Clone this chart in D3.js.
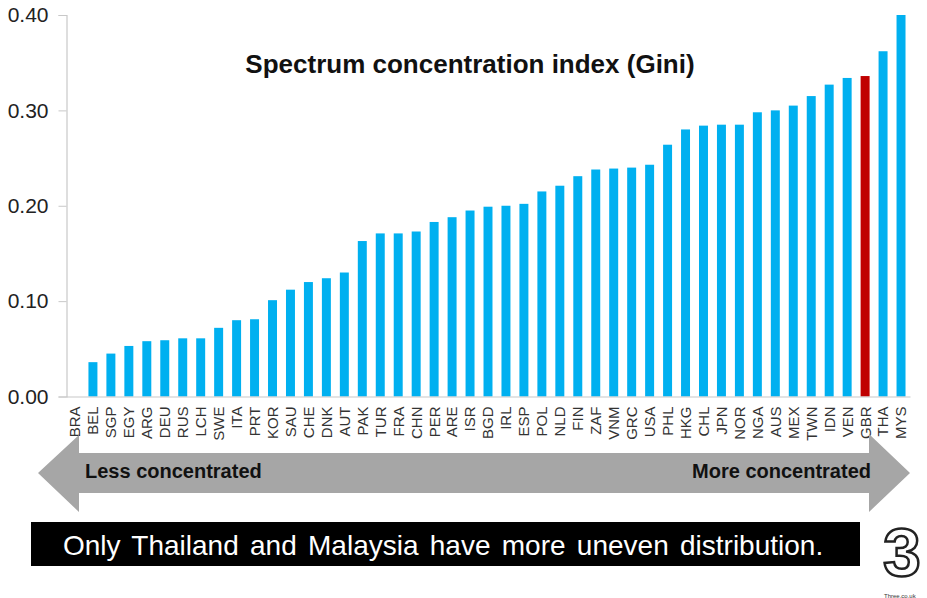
<!DOCTYPE html>
<html><head><meta charset="utf-8">
<script src="https://cdn.jsdelivr.net/npm/d3@7"></script>
<style>
html,body{margin:0;padding:0;background:#fff;}
svg{display:block;font-family:Arial,"Liberation Sans",sans-serif;}
</style></head>
<body><svg id="c" width="927" height="598"></svg>
<script>
const categories = ["BRA","BEL","SGP","EGY","ARG","DEU","RUS","LCH","SWE","ITA","PRT","KOR","SAU","CHE","DNK","AUT","PAK","TUR","FRA","CHN","PER","ARE","ISR","BGD","IRL","ESP","POL","NLD","FIN","ZAF","VNM","GRC","USA","PHL","HKG","CHL","JPN","NOR","NGA","AUS","MEX","TWN","IDN","VEN","GBR","THA","MYS"];
const giniValues = [0,0.036,0.045,0.053,0.058,0.059,0.061,0.061,0.072,0.080,0.081,0.101,0.112,0.120,0.124,0.130,0.163,0.171,0.171,0.173,0.183,0.188,0.195,0.199,0.200,0.202,0.215,0.221,0.231,0.238,0.239,0.240,0.243,0.264,0.280,0.284,0.285,0.285,0.298,0.300,0.305,0.315,0.327,0.334,0.336,0.362,0.400];
const highlighted = ["GBR"];
const yTicks = [0,0.1,0.2,0.3,0.4];
const titleText = "Spectrum concentration index (Gini)";
const leftLabel = "Less concentrated";
const rightLabel = "More concentrated";
const bannerText = "Only Thailand and Malaysia have more uneven distribution.";

const svg = d3.select("#c");
const data = categories.map((c,i)=>({c, v: giniValues[i]}));

const x = d3.scaleBand().domain(categories).range([66,910]).paddingInner(0.5).paddingOuter(0.25);
const y = d3.scaleLinear().domain([0,0.4]).range([396.5,15]);

// y axis
const yAxis = d3.axisLeft(y).tickValues(yTicks).tickFormat(d3.format(".2f")).tickSize(8).tickPadding(10);
const ya = svg.append("g").attr("transform","translate(66.5,0)").call(yAxis);
ya.select(".domain").attr("stroke","#c8c8c8").attr("stroke-width",1.2);
ya.selectAll(".tick line").attr("stroke","#c8c8c8");
ya.selectAll(".tick text").attr("font-size",21).attr("fill","#222").attr("font-family","Arial, 'Liberation Sans', sans-serif");

// bars
svg.append("g").selectAll("rect").data(data).join("rect")
  .attr("x", d=>x(d.c)).attr("width", x.bandwidth())
  .attr("y", d=>y(d.v)).attr("height", d=>y(0)-y(d.v))
  .attr("fill", d=> highlighted.includes(d.c) ? "#c00000" : "#00b0f0");

// x axis
const xAxis = d3.axisBottom(x).tickSize(0).tickPadding(0);
const xa = svg.append("g").attr("transform",`translate(0,${y(0)})`).call(xAxis);
xa.select(".domain").attr("stroke","#c8c8c8").attr("stroke-width",1.2);
xa.selectAll(".tick text")
  .attr("font-size",15).attr("fill","#333").attr("font-family","Arial, 'Liberation Sans', sans-serif")
  .attr("text-anchor","end").attr("transform","rotate(-90)")
  .attr("x",-10).attr("y",0).attr("dy","0.36em");

// title
svg.append("text").attr("x",470).attr("y",73).attr("text-anchor","middle")
  .attr("font-size",26).attr("font-weight","bold").attr("fill","#111").text(titleText);

// double arrow
const ar = d3.path();
ar.moveTo(38,473); ar.lineTo(79,435); ar.lineTo(79,453); ar.lineTo(869,453); ar.lineTo(869,434);
ar.lineTo(910,473); ar.lineTo(869,512); ar.lineTo(869,493); ar.lineTo(79,493); ar.lineTo(79,512); ar.closePath();
svg.append("path").attr("d",ar.toString()).attr("fill","#a6a6a6");
svg.append("text").attr("x",85).attr("y",478).attr("font-size",20).attr("font-weight","bold").attr("fill","#111").text(leftLabel);
svg.append("text").attr("x",871).attr("y",478).attr("text-anchor","end").attr("font-size",20).attr("font-weight","bold").attr("fill","#111").text(rightLabel);

// banner
svg.append("rect").attr("x",31).attr("y",522).attr("width",829).attr("height",44).attr("fill","#000");
svg.append("text").attr("x",63).attr("y",555).attr("font-size",28).attr("fill","#fff").attr("word-spacing",3.5).text(bannerText);

// logo
svg.append("text").attr("x",902).attr("y",576).attr("text-anchor","middle").attr("font-size",68)
  .attr("font-weight","bold").attr("font-family","'Liberation Sans', Arial, sans-serif")
  .attr("fill","#fff").attr("stroke","#222").attr("stroke-width",2.5).text("3");
svg.append("text").attr("x",884).attr("y",597.5).attr("font-size",6).attr("fill","#333").text("Three.co.uk");
</script></body></html>
